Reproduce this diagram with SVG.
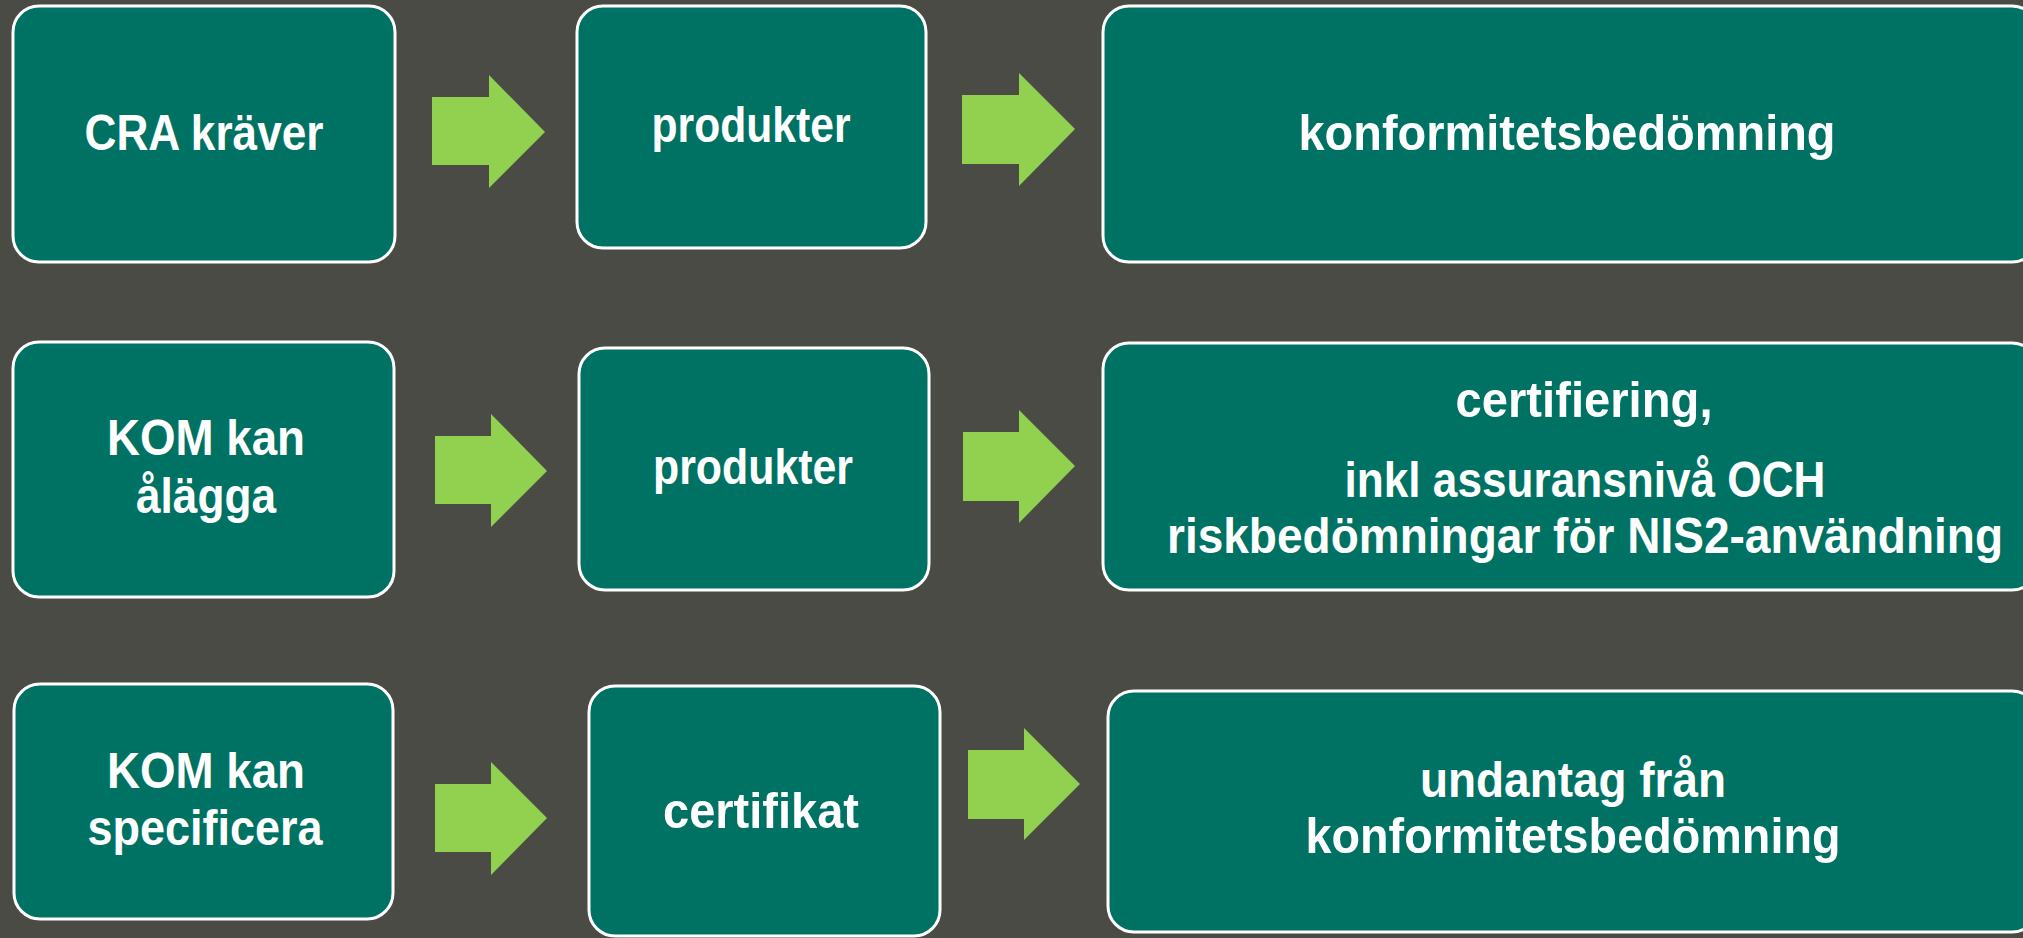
<svg xmlns="http://www.w3.org/2000/svg" width="2023" height="938" viewBox="0 0 2023 938">
<style>
.box{fill:#007263;stroke:#ffffff;stroke-width:3}
.arrow{fill:#92d050}
.t{font-family:"Liberation Sans",Arial,sans-serif;font-weight:bold;font-size:50px;fill:#ffffff;text-anchor:middle}
</style>
<rect x="0" y="0" width="2023" height="938" fill="#4a4b44"/>
<g id="connectors">
<polygon class="arrow" points="432,97 489,97 489,75 545,132 489,188 489,165 432,165"/>
<polygon class="arrow" points="962,95 1019,95 1019,73 1075,129 1019,186 1019,164 962,164"/>
<polygon class="arrow" points="435,436 491,436 491,414 547,471 491,527 491,504 435,504"/>
<polygon class="arrow" points="963,432 1019,432 1019,410 1075,466 1019,523 1019,501 963,501"/>
<polygon class="arrow" points="435,784 491,784 491,762 547,818 491,875 491,852 435,852"/>
<polygon class="arrow" points="968,750 1024,750 1024,728 1080,784 1024,840 1024,819 968,819"/>
</g>
<g id="cra">
<rect class="box" x="13" y="6" width="382" height="256" rx="26"/>
<text class="t" x="204" y="150" textLength="239" lengthAdjust="spacingAndGlyphs">CRA kräver</text>
</g>
<g id="produkter1">
<rect class="box" x="577" y="6" width="349" height="242" rx="26"/>
<text class="t" x="751" y="142" textLength="199" lengthAdjust="spacingAndGlyphs">produkter</text>
</g>
<g id="konformitet1">
<rect class="box" x="1103" y="6" width="935" height="256" rx="26"/>
<text class="t" x="1567" y="150" textLength="537" lengthAdjust="spacingAndGlyphs">konformitetsbedömning</text>
</g>
<g id="kom-alagga">
<rect class="box" x="13" y="342" width="381" height="255" rx="26"/>
<text class="t" x="206" y="455" textLength="198" lengthAdjust="spacingAndGlyphs">KOM kan</text>
<text class="t" x="206" y="513" textLength="140" lengthAdjust="spacingAndGlyphs">ålägga</text>
</g>
<g id="produkter2">
<rect class="box" x="579" y="348" width="350" height="242" rx="26"/>
<text class="t" x="753" y="484" textLength="200" lengthAdjust="spacingAndGlyphs">produkter</text>
</g>
<g id="certifiering">
<rect class="box" x="1103" y="343" width="935" height="247" rx="26"/>
<text class="t" x="1584" y="417" textLength="257" lengthAdjust="spacingAndGlyphs">certifiering,</text>
<text class="t" x="1585" y="497" textLength="481" lengthAdjust="spacingAndGlyphs">inkl assuransnivå OCH</text>
<text class="t" x="1585" y="553" textLength="836" lengthAdjust="spacingAndGlyphs">riskbedömningar för NIS2-användning</text>
</g>
<g id="kom-specificera">
<rect class="box" x="14" y="684" width="379" height="235" rx="26"/>
<text class="t" x="206" y="788" textLength="198" lengthAdjust="spacingAndGlyphs">KOM kan</text>
<text class="t" x="205" y="845" textLength="235" lengthAdjust="spacingAndGlyphs">specificera</text>
</g>
<g id="certifikat">
<rect class="box" x="589" y="686" width="351" height="250" rx="26"/>
<text class="t" x="761" y="828" textLength="196" lengthAdjust="spacingAndGlyphs">certifikat</text>
</g>
<g id="undantag">
<rect class="box" x="1108" y="691" width="930" height="241" rx="26"/>
<text class="t" x="1573" y="797" textLength="306" lengthAdjust="spacingAndGlyphs">undantag från</text>
<text class="t" x="1573" y="853" textLength="535" lengthAdjust="spacingAndGlyphs">konformitetsbedömning</text>
</g>
</svg>
